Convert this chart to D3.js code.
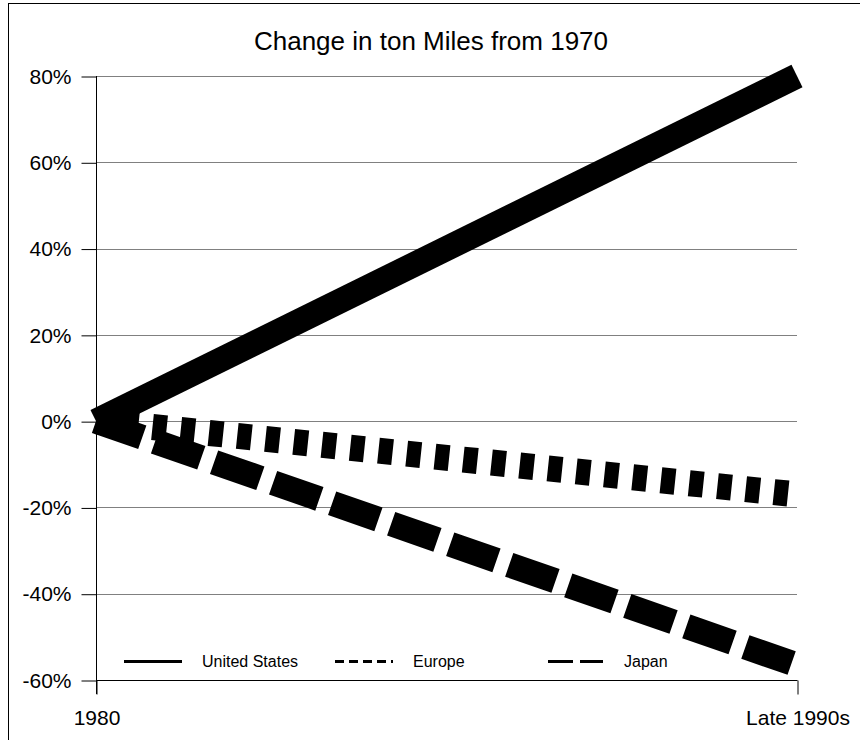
<!DOCTYPE html>
<html>
<head>
<meta charset="utf-8">
<script src="https://cdn.jsdelivr.net/npm/d3@7"></script>
<style>
  html, body { margin: 0; padding: 0; background: #fff; }
  svg { display: block; font-family: "Liberation Sans", Arial, sans-serif; }
</style>
</head>
<body>
<svg id="chart" width="860" height="740"></svg>
<script>
// ---- data ----
const categories = ["1980", "Late 1990s"];
const seriesNames = ["United States", "Europe", "Japan"];
const usValues = [0, 80];
const europeValues = [0, -17];
const japanValues = [0, -56.5];
const yTicks = [80, 60, 40, 20, 0, -20, -40, -60];
const chartTitle = "Change in ton Miles from 1970";

(function () {
const svg = d3.select("#chart");
const W = 860, H = 740;
const pLeft = 96, pRight = 797, pTop = 76, pBottom = 680;

const x = d3.scalePoint().domain(categories).range([pLeft, pRight]);
const y = d3.scaleLinear().domain([-60, 80]).range([pBottom, pTop]);

// outer frame (left & top visible)
svg.append("rect")
  .attr("x", 8.5).attr("y", 3.5)
  .attr("width", W).attr("height", H + 20)
  .attr("fill", "none").attr("stroke", "#000").attr("stroke-width", 1);

// title
svg.append("text")
  .attr("x", 431).attr("y", 50)
  .attr("text-anchor", "middle")
  .attr("font-size", 26)
  .text(chartTitle);

// gridlines
svg.append("g").selectAll("line")
  .data(yTicks.filter(d => d !== -60))
  .join("line")
  .attr("x1", pLeft).attr("x2", pRight)
  .attr("y1", d => Math.round(y(d)) + 0.5).attr("y2", d => Math.round(y(d)) + 0.5)
  .attr("stroke", "#808080").attr("stroke-width", 1);

// y axis
const yAxis = d3.axisLeft(y)
  .tickValues(yTicks)
  .tickSize(15)
  .tickPadding(10)
  .tickFormat(d => d + "%");
const gy = svg.append("g")
  .attr("transform", `translate(${pLeft + 0.5},0.5)`)
  .call(yAxis);
gy.select(".domain").remove();
gy.selectAll(".tick line").attr("stroke", "#000");
gy.selectAll(".tick text").attr("font-size", 21).attr("font-family", "Liberation Sans, Arial, sans-serif").attr("fill", "#000");
// vertical axis line
svg.append("line")
  .attr("x1", pLeft + 0.5).attr("x2", pLeft + 0.5)
  .attr("y1", pTop).attr("y2", pBottom + 14)
  .attr("stroke", "#000");

// x axis
const xAxis = d3.axisBottom(x).tickSize(14).tickPadding(16);
const gx = svg.append("g")
  .attr("transform", `translate(0.5,${pBottom + 0.5})`)
  .call(xAxis);
gx.select(".domain").attr("d", `M${pLeft},0H${pRight}`).attr("stroke", "#000");
gx.selectAll(".tick line").attr("stroke", "#000");
gx.selectAll(".tick text").attr("font-size", 21).attr("font-family", "Liberation Sans, Arial, sans-serif").attr("fill", "#000");

// series lines
const line = d3.line().x((d, i) => x(categories[i])).y(d => y(d));
const series = [
  { name: seriesNames[0], values: usValues, dash: null, width: 25 },
  { name: seriesNames[1], values: europeValues, dash: "14.2,14.2", width: 26 },
  { name: seriesNames[2], values: japanValues, dash: "49,13.5", width: 25 }
];
[series[2], series[1], series[0]].forEach(s => {
  svg.append("path")
    .attr("d", line(s.values))
    .attr("fill", "none")
    .attr("stroke", "#000")
    .attr("stroke-width", s.width)
    .attr("stroke-linecap", "butt")
    .attr("stroke-dasharray", s.dash);
});

// legend
const legendItems = [
  { name: seriesNames[0], x1: 124, x2: 182, dash: null, tx: 202 },
  { name: seriesNames[1], x1: 335, x2: 393, dash: "9,5", tx: 413 },
  { name: seriesNames[2], x1: 548, x2: 603, dash: "25,7", tx: 624 }
];
const lg = svg.append("g");
legendItems.forEach(it => {
  lg.append("line")
    .attr("x1", it.x1).attr("x2", it.x2)
    .attr("y1", 661.5).attr("y2", 661.5)
    .attr("stroke", "#000").attr("stroke-width", 3)
    .attr("stroke-dasharray", it.dash);
  lg.append("text")
    .attr("x", it.tx).attr("y", 667)
    .attr("font-size", 16)
    .text(it.name);
});
})();
</script>
</body>
</html>
